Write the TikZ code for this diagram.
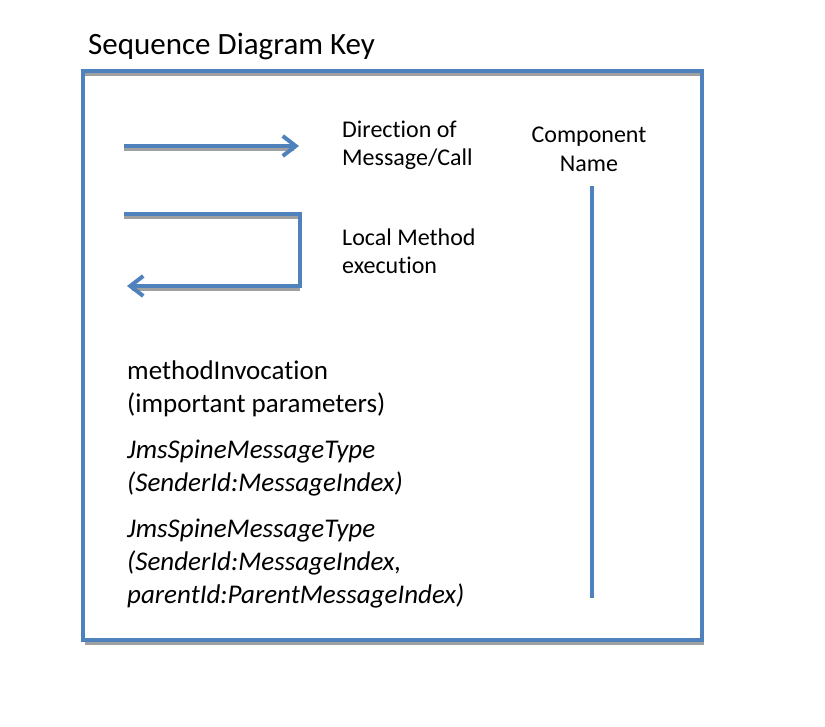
\documentclass[tikz,border=0pt]{standalone}
\usepackage{fontspec}
\setmainfont[Ligatures={CommonOff}]{Carlito}
\usetikzlibrary{arrows.meta}
\definecolor{keyblue}{HTML}{4F81BD}
\definecolor{shadowgray}{HTML}{A0A0A0}
\begin{document}
\begin{tikzpicture}[x=1pt,y=-1pt,
  blueline/.style={draw=keyblue,line width=4pt},
  shadowline/.style={draw=shadowgray,line width=3pt},
  vtip/.style={-{Straight Barb[length=13pt,width=20pt,line width=4pt]}},
  keytext/.style={font=\fontsize{24}{29}\selectfont,anchor=base west,inner sep=0pt},
  bodytext/.style={font=\fontsize{27}{33}\selectfont,anchor=base west,inner sep=0pt},
  bodyital/.style={bodytext,font=\fontsize{27}{33}\itshape\selectfont}]
\useasboundingbox (0,0) rectangle (825,726);
% shadow of frame
\draw[shadowline] (85,643) -- (704,643);
\draw[shadowline] (83,74) -- (702,74);
% frame
\draw[blueline] (83,71) rectangle (702,640);
\node[anchor=base west,inner sep=0pt,font=\fontsize{31}{36}\selectfont] (title) at (88,54) {Sequence Diagram Key};
% arrow 1
\coordinate (a1s) at (124,146);
\coordinate (a1e) at (299,146);
\draw[shadowline] (124,149) -- (294,149);
\draw[blueline,vtip] (a1s) -- (a1e);
% arrow 2
\coordinate (a2s) at (124,214);
\coordinate (a2c1) at (300,214);
\coordinate (a2c2) at (300,286);
\coordinate (a2e) at (127,286);
\draw[shadowline] (124,217) -- (300,217);
\draw[shadowline] (132,289) -- (300,289);
\draw[blueline,vtip] (a2s) -- (a2c1) -- (a2c2) -- (a2e);
% labels
\node[keytext] (dir1) at (342,137) {Direction of};
\node[keytext] (dir2) at (342,165) {Message/Call};
\node[keytext] (loc1) at (342,245) {Local Method};
\node[keytext] (loc2) at (342,273) {execution};
\node[keytext,anchor=base] (comp1) at (589,142) {Component};
\node[keytext,anchor=base] (comp2) at (589,171) {Name};
% lifeline
\coordinate (lt) at (592,186);
\coordinate (lb) at (592,598);
\draw[blueline] (lt) -- (lb);
% body texts
\node[bodytext] (mi1) at (127,379) {methodInvocation};
\node[bodytext] (mi2) at (127,412) {(important parameters)};
\node[bodyital] (ja1) at (127,458) {JmsSpineMessageType};
\node[bodyital] (ja2) at (127,491) {(SenderId:MessageIndex)};
\node[bodyital] (jb1) at (127,537) {JmsSpineMessageType};
\node[bodyital] (jb2) at (127,570) {(SenderId:MessageIndex,};
\node[bodyital] (jb3) at (127,603) {parentId:ParentMessageIndex)};
\end{tikzpicture}
\end{document}
